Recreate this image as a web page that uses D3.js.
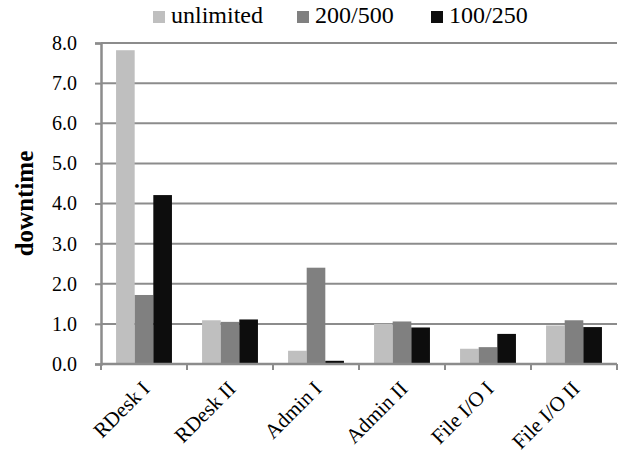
<!DOCTYPE html>
<html>
<head>
<meta charset="utf-8">
<script src="https://cdn.jsdelivr.net/npm/d3@7"></script>
<style>
  html, body { margin: 0; padding: 0; background: #fff; }
  svg { display: block; }
  svg text { font-family: "Liberation Serif", "Times New Roman", Times, serif; }
</style>
</head>
<body>
<svg id="chart" width="634" height="455"></svg>
<script>
// Workloads on the x axis
const categories = ["RDesk I", "RDesk II", "Admin I", "Admin II", "File I/O I", "File I/O II"];
// Series (limits) and their downtime values
const seriesNames = ["unlimited", "200/500", "100/250"];
const unlimited = [7.82, 1.09, 0.33, 1.00, 0.38, 0.96];
const limit200_500 = [1.72, 1.05, 2.40, 1.06, 0.42, 1.09];
const limit100_250 = [4.21, 1.11, 0.08, 0.91, 0.75, 0.92];
const yTicks = [0, 1, 2, 3, 4, 5, 6, 7, 8];
const colors = ["#bfbfbf", "#808080", "#0d0d0d"];

const seriesValues = [unlimited, limit200_500, limit100_250];
const rows = categories.map((c, i) => ({
  category: c,
  values: seriesNames.map((s, j) => ({ key: s, value: seriesValues[j][i] }))
}));

const svg = d3.select("#chart");
const margin = { left: 101, right: 17, top: 43, bottom: 91 };
const W = 634, H = 455;

const x = d3.scaleBand().domain(categories)
  .range([margin.left, W - margin.right]).paddingInner(0.35).paddingOuter(0.175);
const xs = d3.scaleBand().domain(seriesNames).range([0, x.bandwidth()]);
const y = d3.scaleLinear().domain([0, 8]).range([H - margin.bottom, margin.top]);

// Horizontal gridlines
svg.append("g").selectAll("line").data(yTicks.filter(d => d > 0)).join("line")
  .attr("x1", margin.left).attr("x2", W - margin.right)
  .attr("y1", d => y(d)).attr("y2", d => y(d))
  .attr("stroke", "#8c8c8c").attr("stroke-width", 2);

// Bars
const groups = svg.append("g").selectAll("g").data(rows).join("g")
  .attr("transform", d => `translate(${x(d.category)},0)`);
groups.selectAll("rect").data(d => d.values).join("rect")
  .attr("x", d => xs(d.key))
  .attr("width", xs.bandwidth())
  .attr("y", d => y(d.value))
  .attr("height", d => y(0) - y(d.value))
  .attr("fill", (d, i) => colors[i]);

// Y axis
const yAxis = svg.append("g")
  .attr("transform", `translate(${margin.left},0)`)
  .call(d3.axisLeft(y).tickValues(yTicks).tickFormat(d3.format(".1f")).tickSize(6).tickPadding(18));
yAxis.attr("font-family", null);
yAxis.select(".domain").attr("stroke", "#8c8c8c").attr("stroke-width", 2.5);
yAxis.selectAll(".tick line").attr("stroke", "#8c8c8c").attr("stroke-width", 2);
yAxis.selectAll("text").attr("font-size", 20).attr("fill", "#000");

// X axis line with ticks at category boundaries
const xAxisG = svg.append("g").attr("transform", `translate(0,${y(0)})`);
xAxisG.append("line").attr("x1", margin.left).attr("x2", W - margin.right)
  .attr("stroke", "#8c8c8c").attr("stroke-width", 2.5);
const bounds = d3.range(categories.length + 1)
  .map(i => margin.left + i * (W - margin.right - margin.left) / categories.length);
xAxisG.selectAll("line.tk").data(bounds).join("line")
  .attr("class", "tk")
  .attr("x1", d => d).attr("x2", d => d)
  .attr("y1", 0).attr("y2", 6)
  .attr("stroke", "#8c8c8c").attr("stroke-width", 2);
xAxisG.selectAll("text").data(categories).join("text")
  .attr("transform", d => `translate(${x(d) + x.bandwidth() / 2 + 7},${26}) rotate(-45)`)
  .attr("text-anchor", "end")
  .attr("font-size", 21)
  .attr("fill", "#000")
  .text(d => d);

// Y axis title
svg.append("text")
  .attr("transform", `translate(33,${(y(0) + y(8)) / 2}) rotate(-90)`)
  .attr("text-anchor", "middle")
  .attr("font-size", 25)
  .attr("font-weight", "bold")
  .text("downtime");

// Legend
const legendX = [153, 297, 431];
const legend = svg.append("g").selectAll("g").data(seriesNames).join("g")
  .attr("transform", (d, i) => `translate(${legendX[i]},11)`);
legend.append("rect").attr("width", 12).attr("height", 12)
  .attr("fill", (d, i) => colors[i]);
legend.append("text").attr("x", 18).attr("y", 12)
  .attr("font-size", 24).attr("fill", "#000").text(d => d);
</script>
</body>
</html>
